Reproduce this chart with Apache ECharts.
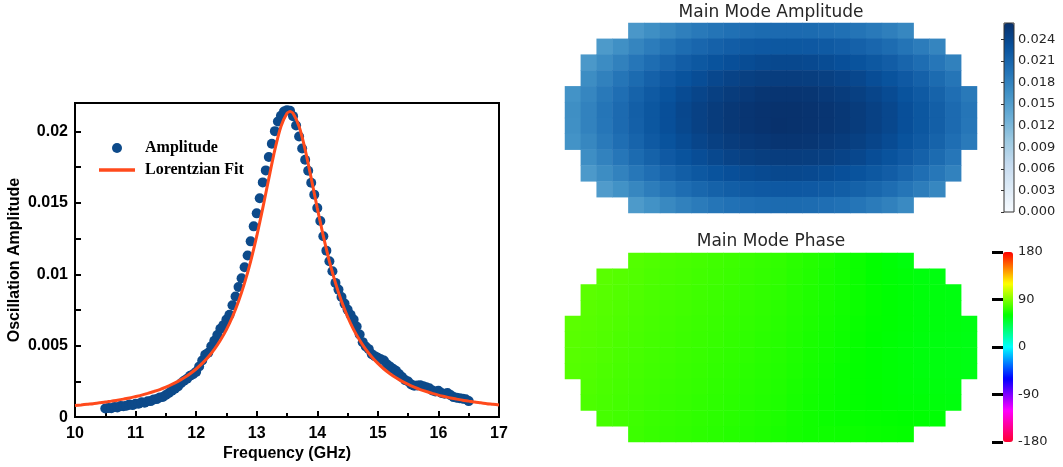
<!DOCTYPE html>
<html><head><meta charset="utf-8">
<script src="https://cdn.jsdelivr.net/npm/echarts/dist/echarts.min.js"></script>
<style>html,body{margin:0;padding:0;background:#fff}#c{width:1063px;height:467px}</style>
</head><body><div id="c"></div><script>
// ---- Left panel: measured amplitude spectrum (GHz, amplitude) ----
const frequencies = [
10.50,10.55,10.60,10.65,10.70,10.75,10.80,10.85,10.90,10.95,
11.00,11.05,11.10,11.15,11.20,11.25,11.30,11.35,11.40,11.45,11.50,11.55,11.60,11.65,11.70,11.75,11.80,11.85,11.90,11.95,
12.00,12.05,12.10,12.15,12.20,12.25,12.30,12.35,12.40,12.45,12.50,12.55,12.60,12.65,12.70,12.75,12.80,12.85,12.90,12.95,
13.00,13.05,13.10,13.15,13.20,13.25,13.30,13.35,13.40,13.45,13.50,13.55,13.60,13.65,13.70,13.75,13.80,13.85,13.90,13.95,
14.00,14.05,14.10,14.15,14.20,14.25,14.30,14.35,14.40,14.45,14.50,14.55,14.60,14.65,14.70,14.75,14.80,14.85,14.90,14.95,
15.00,15.05,15.10,15.15,15.20,15.25,15.30,15.35,15.40,15.45,15.50,15.55,15.60,15.65,15.70,15.75,15.80,15.85,15.90,15.95,
16.00,16.05,16.10,16.15,16.20,16.25,16.30,16.35,16.40,16.45,16.50];
const amplitudes = [
0.00060,0.00063,0.00062,0.00070,0.00068,0.00077,0.00076,0.00080,0.00089,0.00084,
0.00094,0.00094,0.00104,0.00100,0.00111,0.00112,0.00124,0.00126,0.00138,0.00141,0.00155,0.00169,0.00184,0.00199,0.00215,0.00237,0.00255,0.00269,0.00289,0.00300,
0.00317,0.00355,0.00396,0.00437,0.00451,0.00496,0.00534,0.00575,0.00618,0.00644,0.00683,0.00716,0.00783,0.00845,0.00911,0.00973,0.01050,0.01132,0.01231,0.01336,
0.01427,0.01533,0.01644,0.01728,0.01822,0.01915,0.02003,0.02071,0.02110,0.02140,0.02150,0.02145,0.02108,0.02042,0.01965,0.01881,0.01803,0.01725,0.01642,0.01558,
0.01464,0.01373,0.01267,0.01166,0.01091,0.01022,0.00940,0.00893,0.00841,0.00795,0.00753,0.00716,0.00683,0.00634,0.00578,0.00525,0.00494,0.00476,0.00441,0.00427,
0.00416,0.00405,0.00397,0.00370,0.00354,0.00339,0.00325,0.00302,0.00280,0.00259,0.00249,0.00229,0.00220,0.00221,0.00223,0.00216,0.00209,0.00202,0.00186,0.00180,
0.00184,0.00169,0.00164,0.00169,0.00154,0.00140,0.00136,0.00132,0.00128,0.00125,0.00112];
// Lorentzian fit curve, read every 0.1 GHz (plus the peak)
const fitFreq = [
10.0,10.1,10.2,10.3,10.4,10.5,10.6,10.7,10.8,10.9,
11.0,11.1,11.2,11.3,11.4,11.5,11.6,11.7,11.8,11.9,
12.0,12.1,12.2,12.3,12.4,12.5,12.6,12.7,12.8,12.9,
13.0,13.1,13.2,13.3,13.4,13.5,13.55,13.6,13.7,13.8,13.9,
14.0,14.1,14.2,14.3,14.4,14.5,14.6,14.7,14.8,14.9,
15.0,15.1,15.2,15.3,15.4,15.5,15.6,15.7,15.8,15.9,
16.0,16.1,16.2,16.3,16.4,16.5,16.6,16.7,16.8,16.9,17.0];
const fitAmp = [
0.00081,0.00085,0.00090,0.00094,0.00100,0.00105,0.00112,0.00118,0.00126,0.00134,
0.00144,0.00154,0.00166,0.00179,0.00193,0.00210,0.00229,0.00250,0.00275,0.00304,
0.00337,0.00376,0.00421,0.00474,0.00538,0.00613,0.00703,0.00811,0.00940,0.01091,
0.01267,0.01464,0.01672,0.01873,0.02035,0.02128,0.02140,0.02128,0.02035,0.01873,0.01672,
0.01464,0.01267,0.01091,0.00940,0.00811,0.00703,0.00613,0.00538,0.00474,0.00421,
0.00376,0.00337,0.00304,0.00275,0.00250,0.00229,0.00210,0.00193,0.00179,0.00166,
0.00154,0.00144,0.00134,0.00126,0.00118,0.00112,0.00105,0.00100,0.00094,0.00090,0.00085];
const xTicks = {min:10, max:17, step:1};
const yTicks = {min:0, max:0.022, step:0.0025};

// ---- Right panels: 26 x 12 cell maps; each row starts at rowStart[r] ----
const rowStart = [4,2,1,1,0,0,0,0,1,1,2,4];
// amplitude in units of 1e-3
const ampRows = [
[15.8,16.7,17.5,18.3,18.9,19.4,19.8,20.1,20.3,20.4,20.4,20.3,20.1,19.8,19.4,18.9,18.3,17.5],
[15.5,16.6,17.7,18.6,19.4,20.2,20.8,21.3,21.7,22.0,22.2,22.3,22.3,22.2,22.0,21.7,21.3,20.8,20.2,19.4,18.6,17.7],
[15.7,17.0,18.1,19.2,20.1,20.9,21.7,22.3,22.8,23.2,23.5,23.8,23.9,23.9,23.8,23.5,23.2,22.8,22.3,21.7,20.9,20.1,19.2,18.1],
[16.9,18.1,19.3,20.3,21.3,22.1,22.8,23.4,24.0,24.4,24.7,24.9,25.0,25.0,24.9,24.7,24.4,24.0,23.4,22.8,22.1,21.3,20.3,19.3],
[16.3,17.6,18.9,20.0,21.1,22.0,22.8,23.6,24.2,24.7,25.1,25.4,25.7,25.8,25.8,25.7,25.4,25.1,24.7,24.2,23.6,22.8,22.0,21.1,20.0,18.9],
[16.7,18.0,19.3,20.4,21.5,22.4,23.2,24.0,24.6,25.1,25.5,25.8,26.0,26.1,26.1,26.0,25.8,25.5,25.1,24.6,24.0,23.2,22.4,21.5,20.4,19.3],
[16.6,18.0,19.2,20.4,21.4,22.4,23.2,23.9,24.6,25.1,25.5,25.8,26.0,26.2,26.1,26.0,25.8,25.5,25.1,24.6,24.0,23.2,22.4,21.5,20.4,19.2],
[16.3,17.5,18.8,20.0,21.0,22.0,22.8,23.5,24.2,24.7,25.1,25.4,25.6,25.8,25.8,25.7,25.4,25.1,24.7,24.2,23.6,22.8,22.0,21.1,20.0,18.8],
[16.8,18.0,19.2,20.3,21.2,22.1,22.8,23.4,23.9,24.4,24.7,24.9,25.0,25.0,24.9,24.7,24.4,24.0,23.4,22.8,22.1,21.3,20.3,19.2],
[15.6,16.9,18.0,19.1,20.0,20.9,21.6,22.3,22.8,23.2,23.5,23.7,23.9,23.9,23.8,23.5,23.2,22.8,22.3,21.7,20.9,20.0,19.1,18.0],
[15.3,16.4,17.5,18.5,19.3,20.1,20.7,21.2,21.6,21.9,22.1,22.2,22.2,22.1,21.9,21.6,21.2,20.7,20.1,19.3,18.5,17.5],
[15.5,16.4,17.3,18.1,18.7,19.3,19.7,20.0,20.2,20.3,20.3,20.2,20.0,19.7,19.3,18.7,18.1,17.2]];
// phase in degrees
const phaseRows = [
[79.5,78.5,77.5,76.7,75.9,75.1,74.3,73.5,72.5,71.5,70,68.5,66.5,64.5,62.5,60.5,58.5,57],
[81,80,79,78,77,76.2,75.4,74.6,73.8,73,72,71,69.5,68,66,64.5,62.5,60.5,59,58,57,56.5],
[81.5,80.5,79.5,78.5,77.5,76.5,75.7,74.9,74.1,73.3,72.5,71.5,70.5,69,67.5,66,64.5,62.5,61,59.5,58.5,57.5,57,56.5],
[81,80,79,78,77,76,75.2,74.4,73.6,72.8,72,71,70,68.5,67,65.5,64,62.5,61,59.5,58.5,57.5,57,56.5],
[81.5,80.5,79.5,78.5,77.5,76.5,75.5,74.7,73.9,73.1,72.3,71.5,70.5,69.5,68,66.5,65,63.5,62,60.5,59.5,58.5,57.5,57,56.5,56],
[81,80,79,78,77,76,75,74.2,73.4,72.6,71.8,71,70,69,67.5,66,64.5,63,61.5,60,59,58,57,56.5,56,55.5],
[80.5,79.5,78.5,77.5,76.5,75.5,74.5,73.7,72.9,72.1,71.3,70.5,69.5,68.5,67,65.5,64,62.5,61,59.7,58.8,57.8,57,56.5,56,55.5],
[80,79,78,77,76,75,74,73.2,72.4,71.6,70.8,70,69,68,66.5,65,63.5,62,60.8,59.7,58.8,58,57,56.5,56,55.5],
[78.5,77.5,76.5,75.5,74.5,73.5,72.7,71.9,71.1,70.3,69.5,68.5,67.5,66,64.5,63,61.8,60.6,59.8,59,58.2,57.5,57,56.5],
[78,77,76,75,74,73,72.2,71.4,70.6,69.8,69,68,67,65.5,64,62.8,61.7,60.8,60,59.3,58.6,58,57.5,57],
[76.5,75.5,74.5,73.5,72.5,71.7,70.9,70.1,69.3,68.5,67.5,66.5,65,63.8,62.7,62,61.5,61,60.5,60,59.5,59],
[74,73,72,71.2,70.4,69.6,68.8,68,67,66,64.8,63.7,63.5,63,62.5,62,61.5,61]];
const ampScale = {min:0, max:0.02625, step:0.003};
const phaseScale = {min:-180, max:180, step:90};
const blues = ['#f7fbff','#deebf7','#c6dbef','#9ecae1','#6baed6','#4292c6','#2171b5','#08519c','#08306b'];
const hsvColors = ['#ff0030','#ff00ff','#0000ff','#00ffff','#00ff00','#ffff00','#ff0000'];

// ---- build ----
const scatterData = frequencies.map((f,i)=>[f, amplitudes[i]]);
const fitData = fitFreq.map((f,i)=>[f, fitAmp[i]]);
function buildCells(rows, scale){
  const out=[];
  rows.forEach((row,r)=>row.forEach((v,k)=>out.push([rowStart[r]+k, r, +(v*scale).toPrecision(6)])));
  return out;
}
const ampCells = buildCells(ampRows, 0.001);
const phaseCells = buildCells(phaseRows, 1);
const colCats = Array.from({length:26},(_,i)=>String(i));
const rowCats = Array.from({length:12},(_,i)=>String(i));

const bold = {fontFamily:'"Liberation Sans", Arial, sans-serif', fontWeight:'bold', fontSize:16, color:'#000'};
const dj = {fontFamily:'"DejaVu Sans", sans-serif', fontSize:13, color:'#262626'};
const tickStyle = {color:'#000', width:2};

const chart = echarts.init(document.getElementById('c'));
chart.setOption({
  animation:false,
  backgroundColor:'#fff',
  title:[
    {text:'Main Mode Amplitude', left:771, top:4, textAlign:'center', padding:0,
     textStyle:{fontFamily:'"DejaVu Sans", sans-serif', fontSize:17, fontWeight:'normal', color:'#262626'}},
    {text:'Main Mode Phase', left:771, top:233, textAlign:'center', padding:0,
     textStyle:{fontFamily:'"DejaVu Sans", sans-serif', fontSize:17, fontWeight:'normal', color:'#262626'}}
  ],
  legend:{
    data:[{name:'Amplitude', icon:'circle'},{name:'Lorentzian Fit', icon:'path://M0,0H36V3.6H0Z'}],
    orient:'vertical', left:99, top:140, itemWidth:36, itemHeight:10, itemGap:6, padding:0,
    selectedMode:false,
    textStyle:{fontFamily:'"Liberation Serif", "Times New Roman", serif', fontWeight:'bold', fontSize:16, color:'#000', padding:[0,0,0,5]}
  },
  grid:[
    {left:75, top:103, width:424, height:317, show:true, borderColor:'#000', borderWidth:2, backgroundColor:'transparent'},
    {left:565, top:23, width:412, height:190},
    {left:565, top:253, width:412, height:189},
    {left:1004, top:23, width:10, height:189, show:true, borderColor:'#333', borderWidth:1, backgroundColor:'transparent', z:10},
    {left:1003, top:252, width:10, height:190}
  ],
  xAxis:[
    {gridIndex:0, type:'value', min:xTicks.min, max:xTicks.max, interval:xTicks.step,
     axisLine:{show:false}, splitLine:{show:false},
     axisTick:{inside:true, length:6, lineStyle:tickStyle},
     minorTick:{show:true, splitNumber:2, length:4, lineStyle:tickStyle},
     axisLabel:Object.assign({margin:8}, bold),
     name:'Frequency (GHz)', nameLocation:'middle', nameGap:25, nameTextStyle:bold},
    {gridIndex:1, type:'category', data:colCats, show:false},
    {gridIndex:2, type:'category', data:colCats, show:false},
    {gridIndex:3, type:'value', show:false},
    {gridIndex:4, type:'value', show:false}
  ],
  yAxis:[
    {gridIndex:0, type:'value', min:yTicks.min, max:yTicks.max, interval:yTicks.step,
     axisLine:{show:false}, splitLine:{show:false},
     axisTick:{inside:true, length:6, lineStyle:tickStyle},
     axisLabel:Object.assign({margin:7, showMaxLabel:false,
       formatter:v=> (Math.round(v/yTicks.step)%2===0) ? String(+v.toFixed(4)) : ''}, bold),
     name:'Oscillation Amplitude', nameLocation:'middle', nameGap:52, nameTextStyle:bold},
    {gridIndex:1, type:'category', data:rowCats, inverse:true, show:false},
    {gridIndex:2, type:'category', data:rowCats, inverse:true, show:false},
    {gridIndex:3, type:'value', min:ampScale.min, max:ampScale.max, interval:ampScale.step, position:'right', z:10,
     axisLine:{show:false}, splitLine:{show:false},
     axisTick:{show:true, inside:true, length:3, lineStyle:{color:'#333', width:1}},
     axisLabel:Object.assign({margin:4, showMaxLabel:false, formatter:v=> v>0.0245 ? '' : v.toFixed(3)}, dj)},
    {gridIndex:4, type:'value', min:phaseScale.min, max:phaseScale.max, interval:phaseScale.step, position:'right', z:10,
     axisLine:{show:false}, splitLine:{show:false},
     axisTick:{show:true, inside:true, length:11, lineStyle:{color:'#000', width:3}},
     axisLabel:Object.assign({margin:5}, dj)}
  ],
  visualMap:[
    {type:'continuous', seriesIndex:2, dimension:2, min:ampScale.min, max:ampScale.max,
     orient:'vertical', left:1004, top:23, itemWidth:10, itemHeight:189, padding:0,
     calculable:false, hoverLink:false, inRange:{color:blues}},
    {type:'continuous', seriesIndex:3, dimension:2, min:phaseScale.min, max:phaseScale.max,
     orient:'vertical', left:1003, top:252, itemWidth:10, itemHeight:190, padding:0,
     calculable:false, hoverLink:false, inRange:{color:hsvColors}}
  ],
  series:[
    {type:'scatter', name:'Amplitude', xAxisIndex:0, yAxisIndex:0, data:scatterData,
     symbol:'circle', symbolSize:10, itemStyle:{color:'#0d4a8a', opacity:1}, z:2},
    {type:'line', name:'Lorentzian Fit', xAxisIndex:0, yAxisIndex:0, data:fitData,
     smooth:0.2, showSymbol:false, symbol:'none',
     lineStyle:{color:'#ff4a1c', width:3}, itemStyle:{color:'#ff4a1c'}, z:3},
    {type:'heatmap', xAxisIndex:1, yAxisIndex:1, data:ampCells, itemStyle:{borderWidth:0}, emphasis:{disabled:true}},
    {type:'heatmap', xAxisIndex:2, yAxisIndex:2, data:phaseCells, itemStyle:{borderWidth:0}, emphasis:{disabled:true}}
  ]
});
</script></body></html>
